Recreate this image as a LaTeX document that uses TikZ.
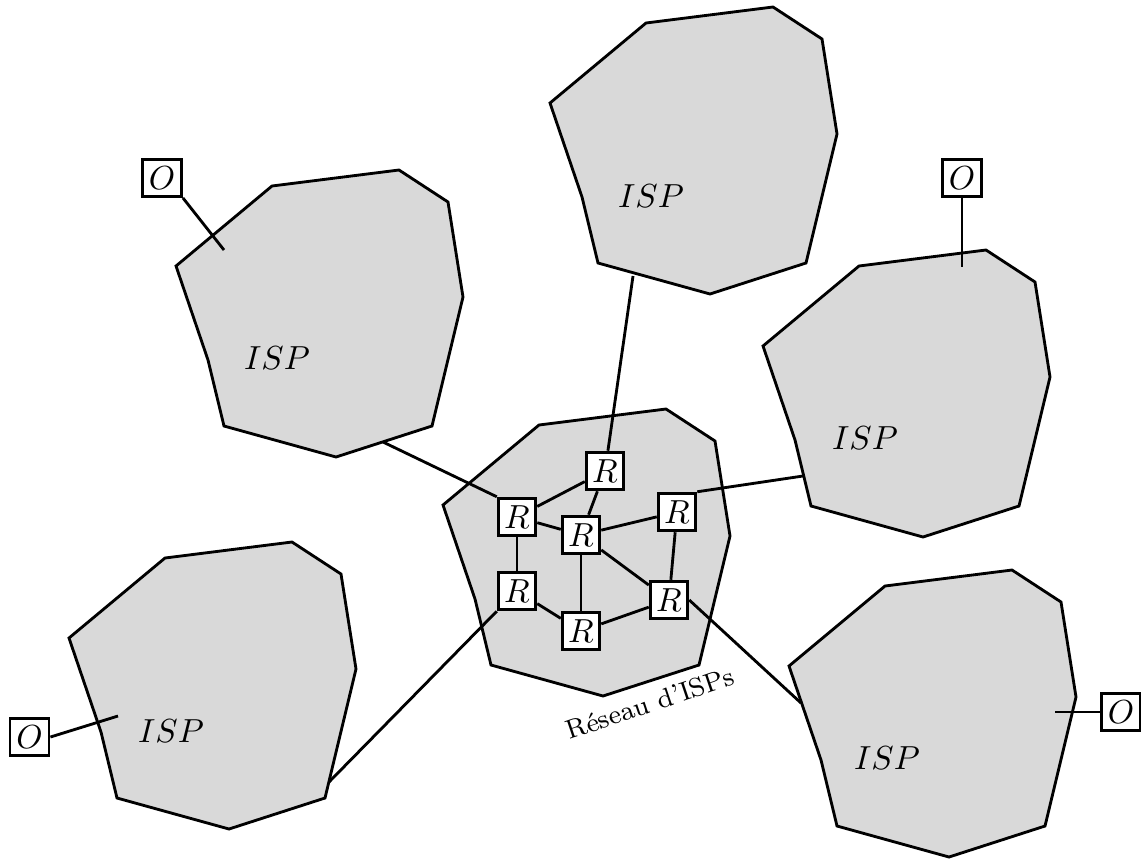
\documentclass[tikz,border=0pt]{standalone}
\begin{document}
\begin{tikzpicture}[x=0.3pt,y=-0.3pt,
  line width=0.85pt,
  ispcloud/.pic={\filldraw[fill=gray!30,draw=black,line join=miter]
     (0,0) -- (96,-80) -- (223,-96) -- (272,-64) -- (287,31) -- (256,160)
     -- (160,191) -- (48,160) -- (32,94) -- cycle;},
  routerbox/.style={draw,fill=white,inner sep=0pt,minimum width=11.3pt,minimum height=11.3pt},
  hostbox/.style={draw,fill=white,inner sep=0pt,minimum width=11.7pt,minimum height=11.1pt},
  isplabel/.style={inner sep=0pt}]
\useasboundingbox (0,0) rectangle (1141,859);
% ISP polygons
\pic at (176,266) {ispcloud};
\pic at (550,103) {ispcloud};
\pic at (763,346) {ispcloud};
\pic at (69,638) {ispcloud};
\pic at (789,666) {ispcloud};
\pic at (443,505) {ispcloud};
% labels
\node[isplabel] (ltl) at (277,358) {$ISP$};
\node[isplabel] (lt) at (651,196) {$ISP$};
\node[isplabel] (lr) at (865,438) {$ISP$};
\node[isplabel] (lbl) at (171,731) {$ISP$};
\node[isplabel] (lbr) at (887,758) {$ISP$};
\node[isplabel,rotate=18.6] (lnet) at (650,703) {\footnotesize R\'eseau d'ISPs};
% routers
\node[routerbox] (R1) at (605,471) {$R$};
\node[routerbox] (R2) at (517,517) {$R$};
\node[routerbox] (R3) at (581,535) {$R$};
\node[routerbox] (R4) at (677,512) {$R$};
\node[routerbox] (R5) at (517,591) {$R$};
\node[routerbox] (R6) at (581,631) {$R$};
\node[routerbox] (R7) at (669,600) {$R$};
% hosts
\node[hostbox] (O1) at (162,178) {$O$};
\node[hostbox] (O2) at (962,178) {$O$};
\node[hostbox] (O3) at (29.5,737) {$O$};
\node[hostbox] (O4) at (1121,712) {$O$};
% connector ends
\coordinate (eT) at (633,276);
\coordinate (eTL) at (383,442);
\coordinate (eR) at (803,476);
\coordinate (eBL) at (329,782);
\coordinate (eBR) at (801,703);
\coordinate (h1) at (224,250);
\coordinate (h2) at (962,267);
\coordinate (h3) at (118,716);
\coordinate (h4) at (1055,712);
% internal links
\draw (R2) -- (R1);
\draw (R1) -- (R3);
\draw (R2) -- (R3);
\draw (R2) -- (R5);
\draw (R3) -- (R4);
\draw (R3) -- (R6);
\draw (R3) -- (R7);
\draw (R4) -- (R7);
\draw (R5) -- (R6);
\draw (R6) -- (R7);
% external links
\draw (R1) -- (eT);
\draw (R2.north west) -- (eTL);
\draw (R4.north east) -- (eR);
\draw (R5.south west) -- (eBL);
\draw (R7.east) -- (eBR);
% host links
\draw (O1.south east) -- (h1);
\draw (O2.south) -- (h2);
\draw (O3.east) -- (h3);
\draw (O4.west) -- (h4);
\end{tikzpicture}
\end{document}
